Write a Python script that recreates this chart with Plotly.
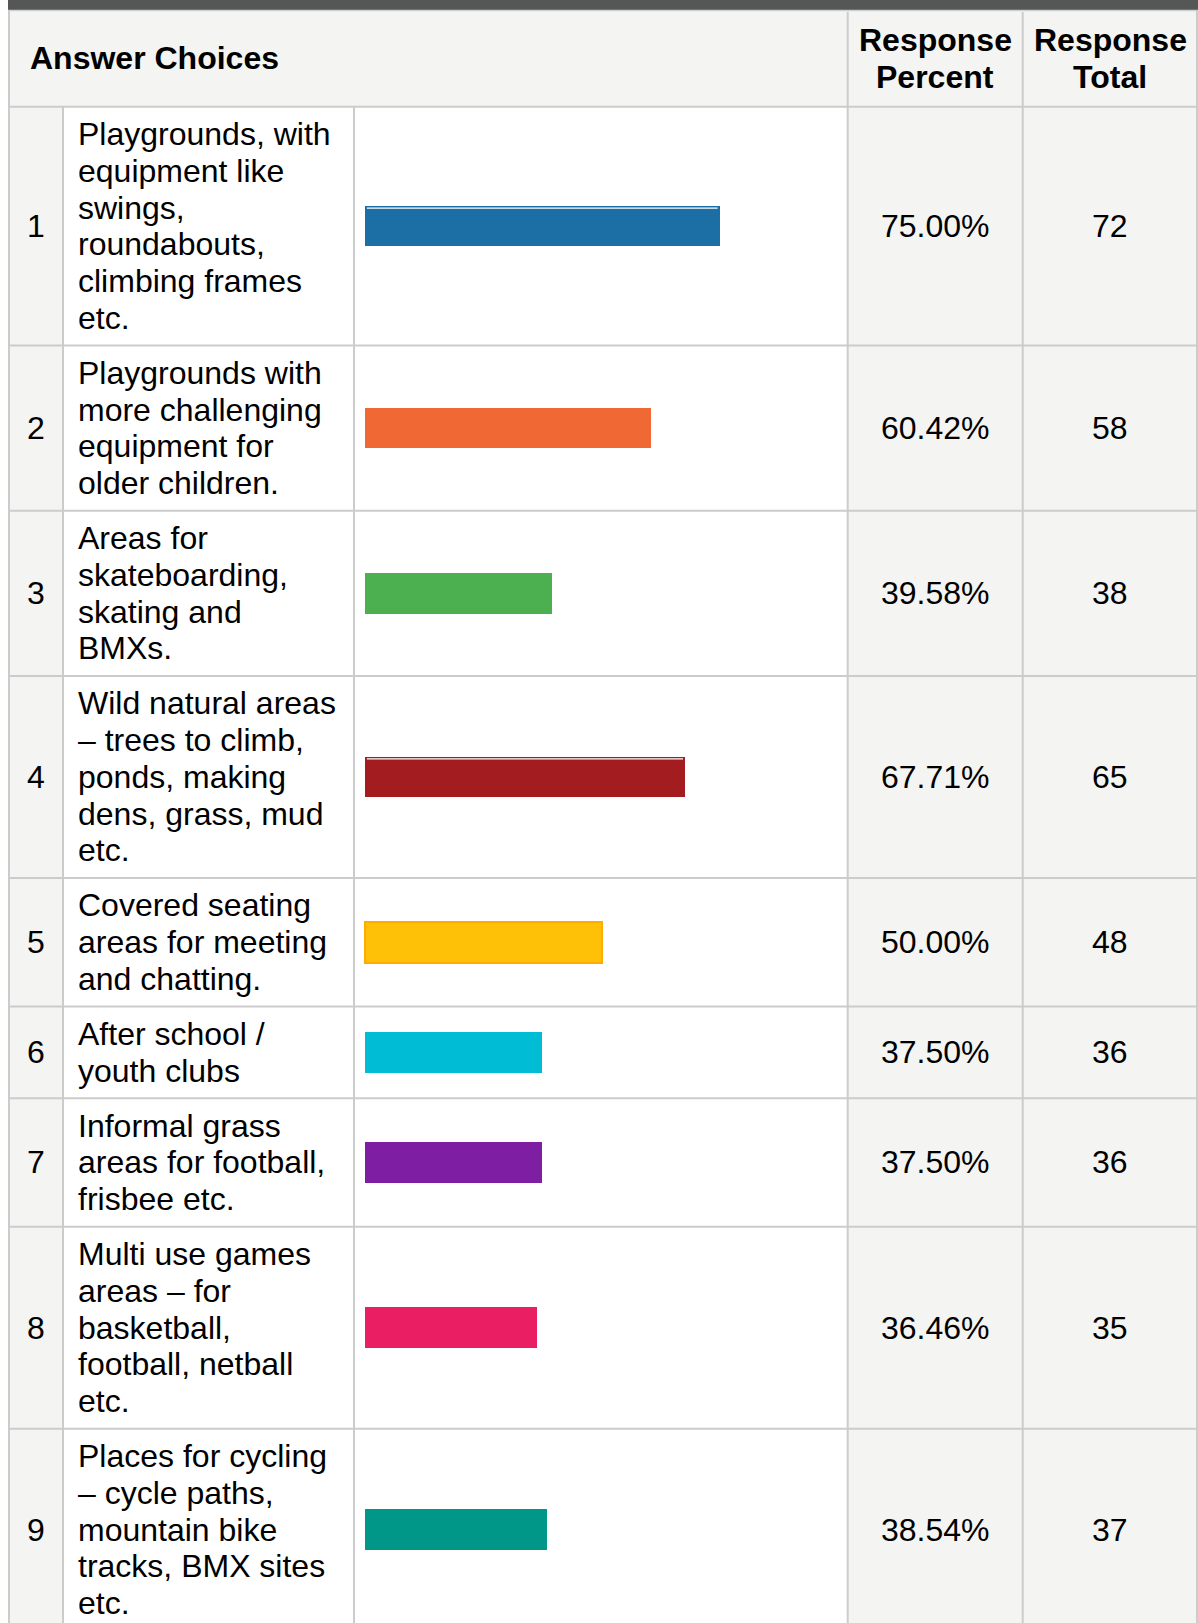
import plotly.graph_objects as go

# ---------------- data ----------------
row_numbers = ["1", "2", "3", "4", "5", "6", "7", "8", "9"]
answer_lines = [
    ["Playgrounds, with", "equipment like", "swings,", "roundabouts,", "climbing frames", "etc."],
    ["Playgrounds with", "more challenging", "equipment for", "older children."],
    ["Areas for", "skateboarding,", "skating and", "BMXs."],
    ["Wild natural areas", "\u2013 trees to climb,", "ponds, making", "dens, grass, mud", "etc."],
    ["Covered seating", "areas for meeting", "and chatting."],
    ["After school /", "youth clubs"],
    ["Informal grass", "areas for football,", "frisbee etc."],
    ["Multi use games", "areas \u2013 for", "basketball,", "football, netball", "etc."],
    ["Places for cycling", "\u2013 cycle paths,", "mountain bike", "tracks, BMX sites", "etc."],
]
response_percent = [75.00, 60.42, 39.58, 67.71, 50.00, 37.50, 37.50, 36.46, 38.54]
response_total = [72, 58, 38, 65, 48, 36, 36, 35, 37]
bar_colors = ["#1c6fa4", "#f06834", "#4caf50", "#a31c20", "#fec107",
              "#00bcd4", "#7e1fa3", "#e91e63", "#009688"]
bar_border = ["#1c6fa4", "#f06834", "#4caf50", "#a31c20", "#ffab00",
              "#00bcd4", "#7e1fa3", "#e91e63", "#009688"]
bar_border_width = [0, 0, 0, 0, 2, 0, 0, 0, 0]
highlight_rows = [0, 3]   # bars drawn with a thin light line along their top edge
header_choices = "Answer Choices"
header_percent = ["Response", "Percent"]
header_total = ["Response", "Total"]

# ---------------- layout constants (pixels) ----------------
W, H = 1198, 1623
FONT = "Liberation Sans, Arial, sans-serif"
FS = 32
PITCH = 36.75
PAD = 18.25
GRID = "#cccccc"
GREY = "#f4f4f2"

X_LEFT = 9
X_NUM_END = 63
X_TXT_END = 354
X_PCT = 847.7
X_TOT = 1022.7
X_RIGHT = 1197
Y_TOP = 10
Y_HEAD_END = 106.7
BAR_X0 = 364.5           # pixel where 0% lies
PX_PER_PCT = 4.74        # pixels per percent
BAR_H = 40.7
TEXT_X = 76

# row geometry from line counts
row_tops, row_bots = [], []
y = Y_HEAD_END
for lines in answer_lines:
    h = len(lines) * PITCH + PAD
    row_tops.append(y)
    row_bots.append(y + h)
    y += h
row_centers = [(a + b) / 2 for a, b in zip(row_tops, row_bots)]
Y_BOTTOM = max(row_bots[-1], H)

fig = go.Figure()

# bars
fig.add_trace(go.Bar(
    x=response_percent, y=row_centers, orientation="h", width=BAR_H,
    xaxis="x2", yaxis="y",
    marker=dict(color=bar_colors, line=dict(color=bar_border, width=bar_border_width)),
    hoverinfo="skip", showlegend=False,
))

shapes = []
def rect(x0, y0, x1, y1, color):
    shapes.append(dict(type="rect", xref="x", yref="y", x0=x0, y0=y0, x1=x1, y1=y1,
                       fillcolor=color, line=dict(width=0), layer="below"))
def line(x0, y0, x1, y1, color=GRID, w=2, xref="x"):
    shapes.append(dict(type="line", xref=xref, yref="y", x0=x0, y0=y0, x1=x1, y1=y1,
                       line=dict(color=color, width=w), layer="above"))

# backgrounds
rect(X_LEFT, Y_TOP, W, Y_HEAD_END, GREY)
rect(X_LEFT, Y_HEAD_END, X_NUM_END, Y_BOTTOM, GREY)
rect(X_PCT, Y_HEAD_END, W, Y_BOTTOM, GREY)
# top dark band
rect(8, 0, W, Y_TOP, "#555757")
line(8, Y_TOP + 0.5, W, Y_TOP + 0.5, "#cfcfcf", 1.5)

# grid lines
line(X_LEFT, Y_TOP, X_LEFT, Y_BOTTOM)
line(X_RIGHT, Y_TOP, X_RIGHT, Y_BOTTOM)
line(X_PCT, Y_TOP + 2, X_PCT, Y_BOTTOM)
line(X_TOT, Y_TOP + 2, X_TOT, Y_BOTTOM)
line(X_NUM_END, Y_HEAD_END, X_NUM_END, Y_BOTTOM)
line(X_TXT_END, Y_HEAD_END, X_TXT_END, Y_BOTTOM)
line(X_LEFT, Y_HEAD_END, W, Y_HEAD_END)
for b in row_bots[:-1]:
    line(X_LEFT, b, W, b)

# thin light line along the top of some bars (in bar-axis units)
for k in highlight_rows:
    ytop = row_centers[k] - BAR_H / 2 + 2.3
    line(0.5, ytop, response_percent[k] - 0.5, ytop, "#ffffff", 1.2, xref="x2")

annotations = []
def txt(x, y, s, anchor="center", bold=False):
    annotations.append(dict(
        xref="x", yref="y", x=x, y=y, text=("<b>%s</b>" % s) if bold else s,
        showarrow=False, xanchor=anchor, yanchor="middle",
        font=dict(family=FONT, size=FS, color="#000000"),
    ))

# header
head_c = (Y_TOP + Y_HEAD_END) / 2
txt(28, head_c, header_choices, anchor="left", bold=True)
for i, s in enumerate(header_percent):
    txt((X_PCT + X_TOT) / 2, head_c + (i - 0.5) * PITCH, s, bold=True)
for i, s in enumerate(header_total):
    txt((X_TOT + W) / 2, head_c + (i - 0.5) * PITCH, s, bold=True)

# body
for k, lines in enumerate(answer_lines):
    c = row_centers[k]
    txt((X_LEFT + X_NUM_END) / 2, c, row_numbers[k])
    n = len(lines)
    for i, s in enumerate(lines):
        txt(TEXT_X, c + (i - (n - 1) / 2) * PITCH, s, anchor="left")
    txt((X_PCT + X_TOT) / 2, c, "%.2f%%" % response_percent[k])
    txt((X_TOT + W) / 2, c, str(response_total[k]))

fig.update_layout(
    width=W, height=H, margin=dict(l=0, r=0, t=0, b=0),
    paper_bgcolor="white", plot_bgcolor="white",
    xaxis=dict(range=[0, W], visible=False, domain=[0, 1], fixedrange=True),
    xaxis2=dict(range=[-BAR_X0 / PX_PER_PCT, (W - BAR_X0) / PX_PER_PCT], visible=False,
                domain=[0, 1], anchor="y", overlaying="x", fixedrange=True),
    yaxis=dict(range=[H, 0], visible=False, domain=[0, 1], fixedrange=True),
    shapes=shapes, annotations=annotations, bargap=0,
)

fig.write_html(
    "out.html",
    config={"displayModeBar": False},
    post_script="document.body.style.margin='0';document.body.style.padding='0';"
                "document.body.style.overflow='hidden';",
)
